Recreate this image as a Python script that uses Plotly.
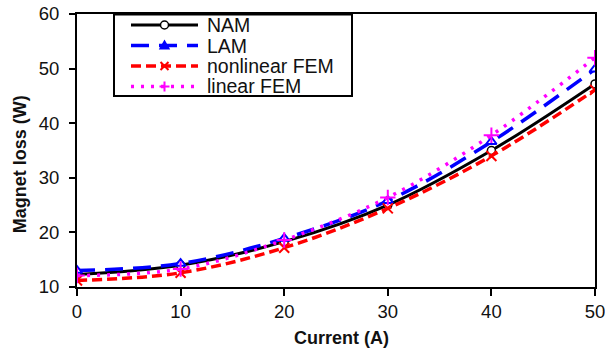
import plotly.graph_objects as go

# Magnet loss versus phase current for the four models
current = [0, 10, 20, 30, 40, 50]
nam = [12.3, 14.0, 18.3, 25.0, 35.0, 47.2]
lam = [13.0, 14.3, 18.9, 25.8, 36.6, 49.9]
nonlinear_fem = [11.2, 12.6, 17.2, 24.4, 34.0, 46.1]
linear_fem = [12.1, 13.3, 18.6, 26.4, 37.8, 52.0]

series_names = ["NAM", "LAM", "nonlinear FEM", "linear FEM"]
series_values = [nam, lam, nonlinear_fem, linear_fem]

x_ticks = [0, 10, 20, 30, 40, 50]
y_ticks = [10, 20, 30, 40, 50, 60]

FONT = "Arial, Liberation Sans, sans-serif"

# line / marker style per series; the key sample path is in pixels around its centre
styles = [
    dict(line=dict(color="black", width=3),
         marker=dict(symbol="circle", size=8, color="white",
                     line=dict(color="black", width=1.5)),
         key=("circle", None)),
    dict(line=dict(color="#0000ff", width=3.5, dash="18px,10px"),
         marker=dict(symbol="triangle-up", size=9, color="white",
                     line=dict(color="#0000ff", width=2)),
         key=("path", "M-4,-3L4,-3L0,4Z")),
    dict(line=dict(color="#ff0000", width=3.5, dash="10px,5px"),
         marker=dict(symbol="x-thin", size=10,
                     line=dict(color="#ff0000", width=2)),
         key=("path", "M-4,-4L4,4M-4,4L4,-4")),
    dict(line=dict(color="#ff00ff", width=3.5, dash="3px,7px"),
         marker=dict(symbol="cross-thin", size=11,
                     line=dict(color="#ff00ff", width=2)),
         key=("path", "M-5,0L5,0M0,-5L0,5")),
]

fig = go.Figure()
for name, values, st in zip(series_names, series_values, styles):
    fig.add_trace(go.Scatter(
        x=current, y=values, name=name, mode="lines+markers",
        line_shape="spline", line=st["line"], marker=st["marker"],
        showlegend=False,
    ))

# ---- legend box drawn in the upper-left corner of the plot area ----
W, H = 605, 350
ML, MR, MT, MB = 77, 10, 14, 63
PW, PH = W - ML - MR, H - MT - MB


def px(x):
    return (x - ML) / PW


def py(y):
    return 1 - (y - MT) / PH


shapes = [dict(type="rect", xref="paper", yref="paper",
               x0=px(114), x1=px(352), y0=py(96), y1=py(14.5),
               fillcolor="white", line=dict(color="black", width=2))]
annotations = []
row_y = [25, 45.5, 66, 86.5]
for name, st, ry in zip(series_names, styles, row_y):
    ln = st["line"]
    shapes.append(dict(type="line", xref="paper", yref="paper",
                       x0=px(131), x1=px(198), y0=py(ry), y1=py(ry),
                       line=dict(color=ln["color"], width=ln["width"],
                                 dash=ln.get("dash", "solid"))))
    mk = st["marker"]
    kind, path = st["key"]
    base = dict(xref="paper", yref="paper", xsizemode="pixel", ysizemode="pixel",
                xanchor=px(164.5), yanchor=py(ry),
                line=dict(color=mk["line"]["color"], width=mk["line"]["width"]))
    if kind == "circle":
        shapes.append(dict(type="circle", x0=-4, x1=4, y0=-4, y1=4,
                           fillcolor="white", **base))
    else:
        fill = mk["line"]["color"] if "Z" in path else None
        shapes.append(dict(type="path", path=path, fillcolor=fill, **base))
    annotations.append(dict(text=name, xref="paper", yref="paper",
                            x=px(205), y=py(ry), xanchor="left", yanchor="middle",
                            showarrow=False,
                            font=dict(family=FONT, size=19.5, color="#111")))

annotations += [
    dict(text="<b>Current (A)</b>", xref="paper", yref="paper",
         x=0.51, y=-0.187, xanchor="center", yanchor="middle",
         showarrow=False, font=dict(family=FONT, size=18, color="#111")),
    dict(text="<b>Magnet loss (W)</b>", xref="paper", yref="paper",
         x=-0.11, y=0.45, xanchor="center", yanchor="middle", textangle=-90,
         showarrow=False, font=dict(family=FONT, size=18, color="#111")),
]

tick_font = dict(family=FONT, size=18.5, color="#111")

fig.update_layout(
    width=W, height=H,
    margin=dict(l=ML, r=MR, t=MT, b=MB),
    paper_bgcolor="white", plot_bgcolor="white",
    showlegend=False,
    xaxis=dict(
        range=[0, 50], tickvals=x_ticks, ticktext=[str(v) for v in x_ticks],
        showgrid=False, zeroline=False, automargin=False,
        ticklabeloverflow="allow",
        showline=True, linecolor="black", linewidth=2, mirror=True,
        ticks="outside", ticklen=7, tickwidth=2, tickcolor="black",
        tickfont=tick_font,
    ),
    yaxis=dict(
        range=[10, 60], tickvals=y_ticks, ticktext=[str(v) for v in y_ticks],
        showgrid=False, zeroline=False, automargin=False,
        ticklabeloverflow="allow",
        showline=True, linecolor="black", linewidth=2, mirror=True,
        ticks="outside", ticklen=6, tickwidth=2, tickcolor="black",
        tickfont=tick_font, ticklabelstandoff=6,
    ),
    shapes=shapes,
    annotations=annotations,
)

fig.write_html("out.html")
